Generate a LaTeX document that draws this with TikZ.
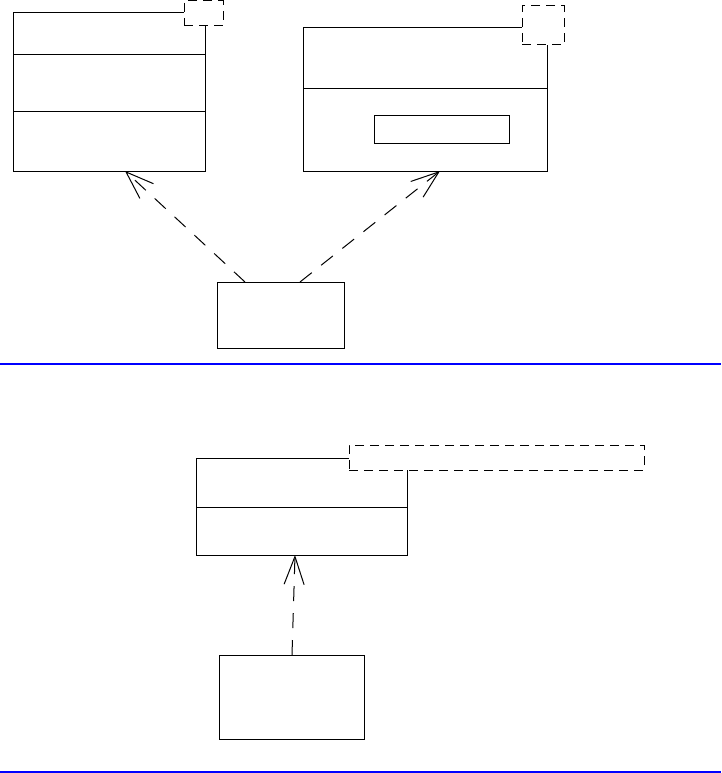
\documentclass[tikz,border=0pt]{standalone}
\usepackage{xcolor}
\usetikzlibrary{positioning, arrows.meta}

\begin{document}
\begin{tikzpicture}[
        x=1pt, y=-1pt,
        part/.style={draw, line width=1pt, fill=white, inner sep=0pt, outer sep=0pt, minimum width=#1},
        part/.default=192pt,
        tmpl/.style={draw, line width=1pt, fill=white, inner sep=0pt, outer sep=0pt, anchor=north west, dash pattern=on 9pt off 6pt},
        dep/.style={-{Straight Barb[length=28pt, width=20pt, line width=1pt]}, line width=1pt, dash pattern=on 15pt off 12pt},
        sepline/.style={line width=2pt, blue},
    ]
        \useasboundingbox (0,0) rectangle (721,773);

        % Upper left class (three parts)
        \node[part, minimum height=42pt, anchor=north west] (ca1) at (13,13) {};
        \node[part, minimum height=57pt, below=0pt of ca1] (ca2) {};
        \node[part, minimum height=59pt, below=0pt of ca2] (ca3) {};
        \node[tmpl, minimum width=39pt, minimum height=25pt] (ta) at (184,1) {};

        % Upper right class (two parts, inner box)
        \node[part=244pt, minimum height=61pt, anchor=north west] (cb1) at (303,28) {};
        \node[part=244pt, minimum height=82pt, below=0pt of cb1] (cb2) {};
        \node[part=135pt, minimum height=27pt, anchor=north west] (ib) at (374,116) {};
        \node[tmpl, minimum width=42pt, minimum height=39pt] (tb) at (522,6) {};

        % Client box
        \node[part=127pt, minimum height=66pt, anchor=north west] (oa) at (217,282) {};

        \draw[dep] ([xshift=-35.5pt]oa.north) -- ([xshift=16pt]ca3.south);
        \draw[dep] ([xshift=19.5pt]oa.north) -- ([xshift=15pt]cb2.south);

        % Separator
        \coordinate (s1l) at (0,364);
        \coordinate (s1r) at (721,364);
        \draw[sepline] (s1l) -- (s1r);

        % Lower class
        \node[part=211pt, minimum height=49pt, anchor=north west] (cc1) at (196,458) {};
        \node[part=211pt, minimum height=48pt, below=0pt of cc1] (cc2) {};
        \node[tmpl, minimum width=295pt, minimum height=25pt] (tc) at (349,445) {};

        % Lower client box
        \node[part=145pt, minimum height=84pt, anchor=north west] (ob) at (219,655) {};
        \draw[dep] ([xshift=0.5pt]ob.north) -- ([xshift=-6.5pt]cc2.south);

        % Separator
        \coordinate (s2l) at (0,772);
        \coordinate (s2r) at (721,772);
        \draw[sepline] (s2l) -- (s2r);
    \end{tikzpicture}
\end{document}
